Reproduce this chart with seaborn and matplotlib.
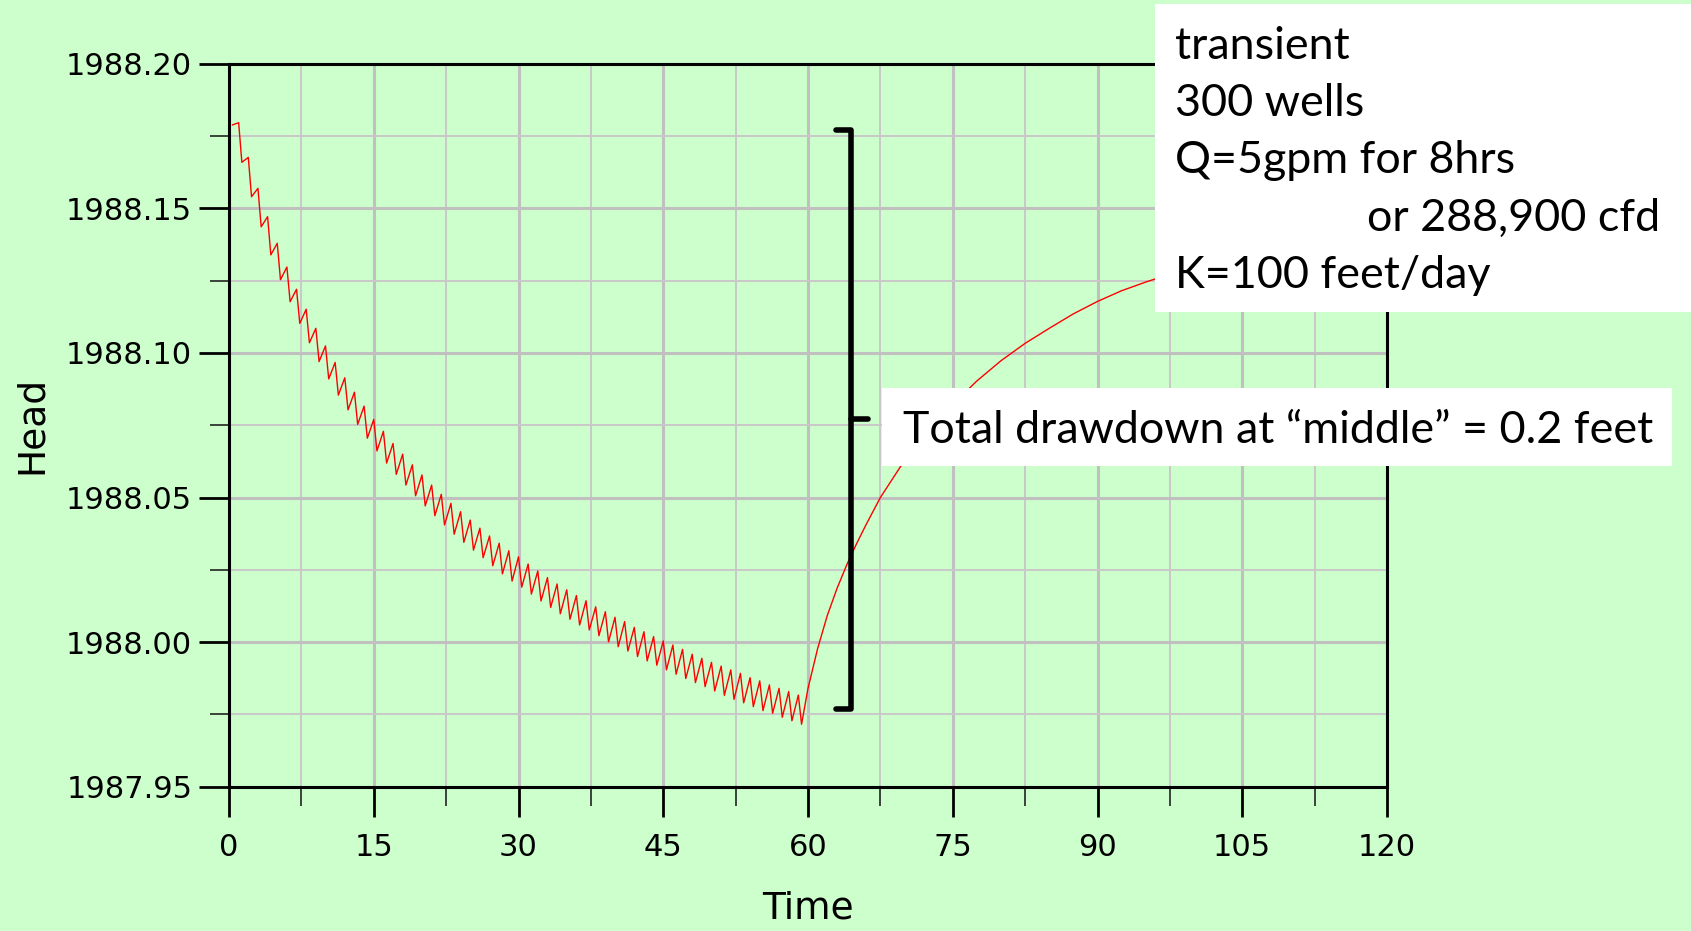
import matplotlib
matplotlib.use("Agg")
import matplotlib.pyplot as plt
from matplotlib.patches import Rectangle
from matplotlib.ticker import MultipleLocator, FormatStrFormatter
import numpy as np
import pandas as pd
import seaborn as sns

# Head (ft) at the end of each 8-hour pumping period, i.e. at day n + 1/3, n = 0..59
pumping_end_head = [
    1988.1788, 1988.1659, 1988.1540, 1988.1436, 1988.1339, 1988.1253, 1988.1177, 1988.1102,
    1988.1035, 1988.0970, 1988.0910, 1988.0854, 1988.0803, 1988.0753, 1988.0705, 1988.0661,
    1988.0619, 1988.0580, 1988.0543, 1988.0506, 1988.0471, 1988.0437, 1988.0405, 1988.0373,
    1988.0345, 1988.0318, 1988.0292, 1988.0264, 1988.0236, 1988.0211, 1988.0190, 1988.0166,
    1988.0142, 1988.0120, 1988.0098, 1988.0079, 1988.0059, 1988.0042, 1988.0022, 1988.0001,
    1987.9984, 1987.9969, 1987.9950, 1987.9935, 1987.9920, 1987.9904, 1987.9889, 1987.9874,
    1987.9860, 1987.9846, 1987.9831, 1987.9816, 1987.9802, 1987.9790, 1987.9777, 1987.9763,
    1987.9754, 1987.9740, 1987.9728, 1987.9716,
]
# Head (ft) at the start of each pumping period, i.e. at day n, n = 1..59
pumping_start_head = [
    1988.1796, 1988.1676, 1988.1569, 1988.1471, 1988.1379, 1988.1297, 1988.1220, 1988.1151,
    1988.1085, 1988.1024, 1988.0967, 1988.0914, 1988.0864, 1988.0816, 1988.0770, 1988.0729,
    1988.0687, 1988.0650, 1988.0613, 1988.0578, 1988.0543, 1988.0511, 1988.0480, 1988.0451,
    1988.0422, 1988.0394, 1988.0367, 1988.0342, 1988.0316, 1988.0295, 1988.0270, 1988.0246,
    1988.0223, 1988.0201, 1988.0181, 1988.0161, 1988.0143, 1988.0122, 1988.0105, 1988.0086,
    1988.0071, 1988.0051, 1988.0036, 1988.0019, 1988.0004, 1987.9990, 1987.9975, 1987.9958,
    1987.9944, 1987.9930, 1987.9917, 1987.9904, 1987.9892, 1987.9877, 1987.9866, 1987.9852,
    1987.9840, 1987.9829, 1987.9817,
]
# Recovery after the wells are shut off
recovery_time = [60, 61, 62, 63, 64, 65, 66, 67.5, 70, 72.5, 75, 77.5, 80, 82.5, 85, 87.5,
                 90, 92.5, 95, 100, 105, 110, 115, 120]
recovery_head = [1987.9840, 1987.9978, 1988.0092, 1988.0185, 1988.0266, 1988.0338,
                 1988.0405, 1988.0500, 1988.0628, 1988.0732, 1988.0822, 1988.0903,
                 1988.0973, 1988.1033, 1988.1085, 1988.1135, 1988.1178, 1988.1215,
                 1988.1245, 1988.1300, 1988.1355, 1988.1400, 1988.1440, 1988.1475]

x_ticks = [0, 15, 30, 45, 60, 75, 90, 105, 120]
y_ticks = [1987.95, 1988.00, 1988.05, 1988.10, 1988.15, 1988.20]

PUMP_FRACTION = 8 / 24          # 8 hours of pumping each day
DRAWDOWN = 0.2                  # total drawdown at "middle", ft
BRACKET_TOP = 1988.177

# Assemble the daily pumping / recovery cycle
times, heads = [PUMP_FRACTION], [pumping_end_head[0]]
for day, (h_start, h_end) in enumerate(zip(pumping_start_head, pumping_end_head[1:]), start=1):
    times += [day, day + PUMP_FRACTION]
    heads += [h_start, h_end]
times += recovery_time
heads += recovery_head
df = pd.DataFrame({"Time": times, "Head": heads})

BG = "#CCFFCC"
W, H = 1691, 931
sns.set_style("ticks", rc={"axes.facecolor": BG, "figure.facecolor": BG,
                           "text.color": "black", "axes.labelcolor": "black",
                           "xtick.color": "black", "ytick.color": "black"})
plt.rcParams["font.family"] = ["DejaVu Sans"]

fig = plt.figure(figsize=(W / 100, H / 100), dpi=100)
ax = fig.add_axes([229 / W, 1 - 786.7 / H, (1387 - 229) / W, (786.7 - 63.7) / H])

sns.lineplot(data=df, x="Time", y="Head", sort=False, estimator=None,
             color="red", linewidth=1.0, ax=ax, zorder=3)

ax.set_xlim(x_ticks[0], x_ticks[-1])
ax.set_ylim(y_ticks[0], y_ticks[-1])
ax.set_xticks(x_ticks)
ax.set_yticks(y_ticks)
ax.xaxis.set_minor_locator(MultipleLocator(7.5))
ax.yaxis.set_minor_locator(MultipleLocator(0.025))
ax.yaxis.set_major_formatter(FormatStrFormatter("%.2f"))

ax.set_axisbelow(True)
ax.grid(which="major", color="#C0C0C0", linewidth=2.2)
ax.grid(which="minor", color="#C8C8C8", linewidth=1.4)

for side in ["left", "right", "top", "bottom"]:
    ax.spines[side].set_visible(True)
    ax.spines[side].set_color("black")
    ax.spines[side].set_linewidth(2.2)
    ax.spines[side].set_zorder(4)

ax.tick_params(axis="both", which="major", direction="out", length=21.5, width=2,
               color="black", labelsize=22, labelcolor="black")
ax.tick_params(axis="both", which="minor", direction="out", length=14, width=1.2,
               color="#222222")
ax.tick_params(axis="x", which="major", pad=12)
ax.tick_params(axis="y", which="major", pad=5)
ax.tick_params(top=False, right=False, which="both")

ax.set_xlabel("Time", fontsize=27, color="black")
ax.set_ylabel("Head", fontsize=27, color="black")
ax.xaxis.set_label_coords(0.5, -0.144)
ax.yaxis.set_label_coords(-0.1546, 0.5)

# Bracket marking the total drawdown
bx, hook, tick = 64.5, 62.9, 66.2
btm = BRACKET_TOP - DRAWDOWN
mid = BRACKET_TOP - DRAWDOWN / 2
ax.plot([hook, bx, bx, hook], [BRACKET_TOP, BRACKET_TOP, btm, btm], color="black",
        linewidth=4.0, solid_joinstyle="round", clip_on=False, zorder=6)
ax.plot([bx, tick], [mid, mid], color="black", linewidth=4.0,
        solid_capstyle="round", clip_on=False, zorder=6)


def fx(x):
    return x / W


def fy(y):
    return 1 - y / H


note_font = dict(family="Lato", fontsize=32.3, color="black", zorder=11)

# Model description box
fig.add_artist(Rectangle((fx(1155), fy(312)), fx(W - 1155), (312 - 4) / H,
                         transform=fig.transFigure, facecolor="white",
                         edgecolor="none", zorder=10))
fig.text(fx(1175), fy(59.3), "transient", va="baseline", **note_font)
fig.text(fx(1175), fy(115.5), "300 wells", va="baseline", **note_font)
fig.text(fx(1175), fy(172.7), "Q=5gpm for 8hrs", va="baseline", **note_font)
fig.text(fx(1367), fy(230.5), "or 288,900 cfd", va="baseline", **note_font)
fig.text(fx(1175), fy(287.5), "K=100 feet/day", va="baseline", **note_font)

# Drawdown note
fig.add_artist(Rectangle((fx(882), fy(466)), fx(1672 - 882), (466 - 388) / H,
                         transform=fig.transFigure, facecolor="white",
                         edgecolor="none", zorder=10))
fig.text(fx(903), fy(443.3), f"Total drawdown at \u201cmiddle\u201d = {DRAWDOWN:g} feet",
         va="baseline", **note_font)

fig.savefig("out.png", dpi=100, facecolor=BG)
